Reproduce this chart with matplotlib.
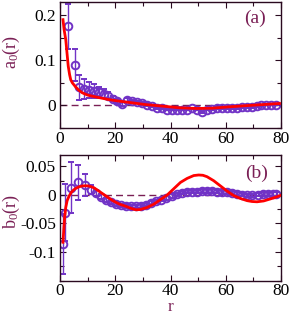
import matplotlib
matplotlib.use("Agg")
import matplotlib.pyplot as plt
from matplotlib.ticker import MultipleLocator, FixedLocator

plt.rcParams['font.family'] = ['Liberation Serif', 'DejaVu Serif']
plt.rcParams['mathtext.fontset'] = 'custom'
plt.rcParams['mathtext.rm'] = 'Liberation Serif'
plt.rcParams['mathtext.it'] = 'Liberation Serif'

# ---- data: panel (a) ----
r_a = [3.0, 5.3, 6.9, 8.7, 10.5, 12.3, 14.1, 15.9, 17.5, 19.2, 20.8, 22.5, 24.3, 26.1,
       27.9, 29.7, 31.5, 33.3, 35.1, 36.9, 38.7, 40.5, 42.3, 44.1, 45.9, 47.7, 49.5,
       51.3, 53.1, 54.9, 56.7, 58.5, 60.3, 62.1, 63.9, 65.7, 67.5, 69.3, 71.1, 72.9,
       74.7, 76.5, 78.3]
a0 = [0.175, 0.089, 0.040, 0.037, 0.034, 0.032, 0.029, 0.026, 0.022, 0.015, 0.009,
      0.003, 0.012, 0.010, 0.008, 0.005, 0.002, -0.0015, -0.005, -0.0066, -0.009,
      -0.009, -0.009, -0.009, -0.009, -0.0066, -0.009, -0.014, -0.009, -0.007, -0.005,
      -0.005, -0.005, -0.005, -0.005, -0.004, -0.004, -0.003, -0.002, 0.000, 0.002,
      0.002, 0.002]
a0_err = [0.05, 0.035, 0.028, 0.022, 0.018, 0.015, 0.012, 0.010, 0.008, 0.006, 0.005,
          0.004, 0.004, 0.003, 0.003, 0.003, 0.003, 0.002, 0.002, 0.002, 0.002, 0.002,
          0.002, 0.002, 0.002, 0.002, 0.002, 0.002, 0.002, 0.002, 0.002, 0.002, 0.002,
          0.002, 0.002, 0.002, 0.002, 0.002, 0.002, 0.002, 0.002, 0.002, 0.002]
fit_r_a = [1.1, 1.5, 2.1, 2.6, 3.0, 3.5, 3.9, 4.5, 5.7, 6.8, 8.1, 10.0, 12.9, 17.7,
           21.0, 26.0, 31.0, 37.2, 43.0, 49.3, 55.0, 61.3, 67.0, 73.4, 79.4]
fit_a = [0.19, 0.168, 0.146, 0.113, 0.087, 0.068, 0.057, 0.050, 0.041, 0.034, 0.028,
         0.023, 0.019, 0.013, 0.010, 0.006, 0.002, -0.0015, -0.005, -0.0066, -0.006,
         -0.003, -0.0005, 0.002, 0.0044]

# ---- data: panel (b) ----
r_b = [1.1, 1.7, 4.1, 6.6, 9.0, 11.1, 12.9, 14.7, 16.5, 18.3, 20.2, 22.0, 23.9, 25.7,
       27.5, 29.4, 31.2, 33.0, 34.9, 36.7, 38.5, 40.4, 42.2, 44.0, 45.9, 47.7, 49.5,
       51.4, 53.2, 55.0, 56.8, 58.7, 60.5, 62.3, 64.1, 66.0, 67.8, 69.6, 71.5, 73.3,
       75.1, 76.9, 78.2]
b0 = [-0.086, -0.031, 0.013, 0.022, 0.0175, 0.009, 0.004, -0.003, -0.009, -0.013,
      -0.016, -0.018, -0.019, -0.020, -0.020, -0.019, -0.017, -0.014, -0.011, -0.008,
      -0.005, -0.002, 0.001, 0.004, 0.006, 0.006, 0.006, 0.007, 0.007, 0.007, 0.006,
      0.005, 0.005, 0.004, 0.002, 0.0005, -0.0007, -0.0007, 0.0005, 0.002, 0.002,
      0.002, 0.002]
b0_err = [0.053, 0.05, 0.044, 0.031, 0.02, 0.008, 0.005, 0.004, 0.003, 0.003, 0.003,
          0.003, 0.003, 0.003, 0.003, 0.003, 0.003, 0.003, 0.003, 0.003, 0.003, 0.003,
          0.003, 0.003, 0.003, 0.003, 0.003, 0.003, 0.003, 0.003, 0.003, 0.003, 0.003,
          0.003, 0.003, 0.003, 0.003, 0.003, 0.003, 0.003, 0.003, 0.003, 0.003]
fit_r_b = [1.1, 1.4, 1.7, 2.1, 2.6, 3.3, 4.1, 5.0, 5.9, 7.0, 8.3, 10.1, 11.3, 12.5,
           14.0, 15.5, 17.3, 19.1, 21.5, 23.9, 25.7, 27.5, 29.1, 31.5, 34.0, 36.4,
           38.8, 41.2, 43.6, 46.0, 48.4, 50.2, 51.7, 53.2, 55.6, 58.0, 60.4, 62.8,
           65.2, 67.7, 69.5, 71.3, 73.7, 76.1, 78.0, 79.7]
fit_b = [-0.083, -0.06, -0.039, -0.022, -0.01, -0.002, 0.0046, 0.009, 0.012, 0.0145,
         0.016, 0.016, 0.0145, 0.012, 0.007, 0.002, -0.004, -0.01, -0.016, -0.02,
         -0.0235, -0.026, -0.0255, -0.022, -0.016, -0.008, 0.0, 0.011, 0.022, 0.029,
         0.034, 0.035, 0.0345, 0.032, 0.025, 0.016, 0.007, -0.001, -0.006, -0.01,
         -0.0115, -0.012, -0.0105, -0.007, -0.004, -0.001]

maroon = '#7a1f55'
purple = '#7133c6'
spine_col = '#2a0a20'

fig = plt.figure(figsize=(2.91, 3.17), dpi=100)
ax1 = fig.add_axes([0.206, 0.596, 0.760, 0.399])
ax2 = fig.add_axes([0.206, 0.115, 0.760, 0.396])

def style(ax):
    for s in ax.spines.values():
        s.set_color(spine_col)
        s.set_linewidth(1.0)
    ax.tick_params(which='both', direction='in', top=True, right=True,
                   color=spine_col, labelsize=12.5, width=0.8, pad=3)
    ax.tick_params(which='major', length=4)
    ax.tick_params(which='minor', length=3)
    ax.tick_params(axis='x', pad=2)
    ax.set_xlim(0, 80)
    ax.xaxis.set_major_locator(MultipleLocator(20))
    ax.xaxis.set_minor_locator(MultipleLocator(10))

mk = dict(fmt='o', ms=5.5, mfc='none', mec=purple, mew=1.4, ecolor=purple,
          elinewidth=1.0, capsize=2.5, capthick=1.0, zorder=2)

# panel (a)
ax1.axhline(0, color=maroon, lw=1.0, ls=(0, (5, 3)), zorder=1)
ax1.errorbar(r_a, a0, yerr=a0_err, **mk)
ax1.plot(fit_r_a, fit_a, color='#ff0000', lw=2.0, zorder=3)
style(ax1)
ax1.set_ylim(-0.05, 0.23)
ax1.yaxis.set_major_locator(FixedLocator([0, 0.1, 0.2]))
ax1.yaxis.set_minor_locator(MultipleLocator(0.05))
ax1.set_yticklabels(['0', '0.1', '0.2'])
ax1.set_ylabel(r'a$_0$(r)', color=maroon, fontsize=13)
ax1.yaxis.set_label_coords(-0.17, 0.6)
ax1.text(0.88, 0.87, '(a)', transform=ax1.transAxes, color=maroon, fontsize=14,
         ha='center', va='center')

# panel (b)
ax2.axhline(0, color=maroon, lw=1.0, ls=(0, (5, 3)), zorder=1)
ax2.errorbar(r_b, b0, yerr=b0_err, **mk)
ax2.plot(fit_r_b, fit_b, color='#ff0000', lw=2.0, zorder=3)
style(ax2)
ax2.set_ylim(-0.15, 0.07)
ax2.yaxis.set_major_locator(FixedLocator([-0.1, -0.05, 0, 0.05]))
ax2.yaxis.set_minor_locator(MultipleLocator(0.025))
ax2.set_yticklabels(['-0.1', '-0.05', '0', '0.05'])
ax2.set_ylabel(r'b$_0$(r)', color=maroon, fontsize=13)
ax2.yaxis.set_label_coords(-0.17, 0.55)
ax2.set_xlabel('r', color=maroon, fontsize=12.5)
ax2.xaxis.set_label_coords(0.5, -0.15)
ax2.text(0.89, 0.85, '(b)', transform=ax2.transAxes, color=maroon, fontsize=14,
         ha='center', va='center')

fig.savefig('out.png', dpi=100)
